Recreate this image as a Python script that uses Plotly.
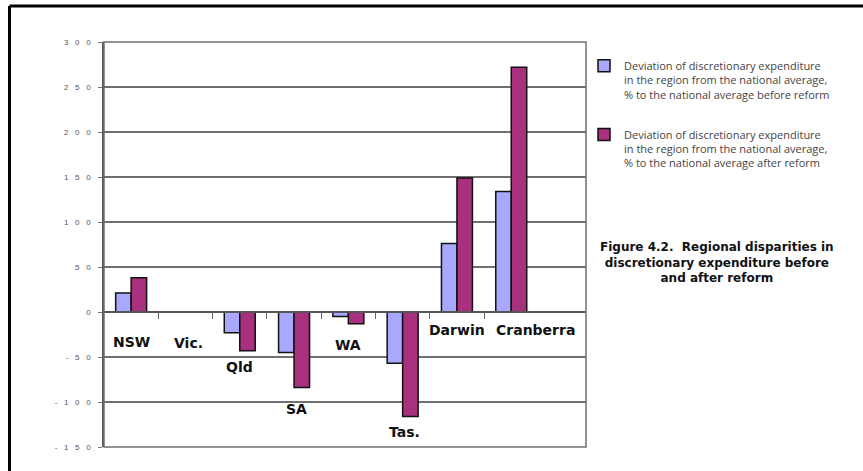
import plotly.graph_objects as go

# Regions and deviation of discretionary expenditure from the national average (%)
regions = ["NSW", "Vic.", "Qld", "SA", "WA", "Tas.", "Darwin", "Cranberra"]
before_reform = [21, 0, -23, -45, -5, -57, 76, 134]
after_reform = [38, 0, -43, -84, -13, -116, 149, 272]

# y placement (data units) and x nudge for each region's label
label_y = [-33, -34, -61, -108, -37, -133, -20, -20]
label_dx = [0, 0.05, 0, 0.05, 0, 0.03, 0, 0.45]

y_ticks = [300, 250, 200, 150, 100, 50, 0, -50, -100, -150]

series_names = [
    "Deviation of discretionary expenditure<br>in the region from the national average,<br>% to the national average before reform",
    "Deviation of discretionary expenditure<br>in the region from the national average,<br>% to the national average after reform",
]
title_text = "<b>Figure 4.2.&nbsp; Regional disparities in<br>discretionary expenditure before<br>and after reform</b>"

BLUE = "#A8A8FF"
PURPLE = "#A8307E"
GRID = "#707070"

W, H = 863, 471
L, R, T, B = 104, 586, 42, 447  # plot area in pixels
pw, ph = R - L, B - T


def spaced(v):
    s = str(abs(v))
    sep = "\u00a0\u00a0\u00a0"
    out = sep.join(s)
    return ("-" + sep + out) if v < 0 else out


x_idx = list(range(len(regions)))

fig = go.Figure()
fig.add_trace(go.Bar(
    x=x_idx, y=before_reform, name=series_names[0], legendgroup="a",
    marker=dict(color=BLUE, line=dict(color="#111", width=1.5)),
))
fig.add_trace(go.Bar(
    x=x_idx, y=after_reform, name=series_names[1], legendgroup="b",
    marker=dict(color=PURPLE, line=dict(color="#111", width=1.5)),
))

y0, y1 = -150, 300
zero_frac = (0 - y0) / (y1 - y0)

fig.update_layout(
    width=W, height=H,
    margin=dict(l=L, r=W - R, t=T, b=H - B),
    paper_bgcolor="white", plot_bgcolor="white",
    barmode="group", bargap=0.43, bargroupgap=0,
    font=dict(family="Open Sans, sans-serif", color="#444"),
    xaxis=dict(
        range=[-0.5, -0.5 + pw / 54.3],
        tickvals=[i + 0.5 for i in range(len(regions) - 1)],
        ticktext=[""] * (len(regions) - 1),
        ticks="outside", ticklen=6, tickcolor="#666", tickwidth=1.2,
        showgrid=False, zeroline=False,
        showline=True, linecolor="#555", linewidth=1.5,
        anchor="free", position=zero_frac,
        fixedrange=True,
    ),
    yaxis=dict(
        range=[y0, y1],
        tickvals=y_ticks,
        ticktext=[spaced(v) for v in y_ticks],
        tickfont=dict(family="Liberation Sans, Arial", size=8, color="#555"),
        ticks="outside", ticklen=4, tickcolor="#777", tickwidth=1.2,
        ticklabelstandoff=6,
        showgrid=True, gridcolor=GRID, gridwidth=1.5,
        zeroline=False,
        showline=True, linecolor="#555", linewidth=1.5,
        fixedrange=True,
    ),
    legend=dict(
        x=(584 - L) / pw, xanchor="left",
        y=(B - 52) / ph, yanchor="top",
        font=dict(family="Open Sans, sans-serif", size=11, color="#444"),
        valign="top", tracegroupgap=23, traceorder="grouped",
        bgcolor="rgba(0,0,0,0)",
    ),
    showlegend=True,
)

# plot-area frame (right and bottom edges)
fig.add_shape(type="rect", xref="paper", yref="paper", x0=0, x1=1, y0=0, y1=1,
              line=dict(color=GRID, width=1.5), layer="above")


def px_x(p):
    return (p - L) / pw


def px_y(p):
    return (B - p) / ph


# outer black frame along the top and left edges
fig.add_shape(type="line", xref="paper", yref="paper",
              x0=px_x(9.5), x1=px_x(W + 5), y0=px_y(6), y1=px_y(6),
              line=dict(color="black", width=3))
fig.add_shape(type="line", xref="paper", yref="paper",
              x0=px_x(9.5), x1=px_x(9.5), y0=px_y(6), y1=px_y(H + 5),
              line=dict(color="black", width=3))

# region labels
for i, name in enumerate(regions):
    fig.add_annotation(
        x=i + label_dx[i], y=label_y[i], xref="x", yref="y",
        text=f"<b>{name}</b>", showarrow=False,
        font=dict(family="DejaVu Sans, sans-serif", size=14, color="#111"),
    )

# figure caption
fig.add_annotation(
    x=px_x(717), y=px_y(262), xref="paper", yref="paper",
    xanchor="center", yanchor="middle",
    text=title_text, showarrow=False, align="center",
    font=dict(family="DejaVu Sans, sans-serif", size=12, color="#111"),
)

fig.write_html("out.html")
